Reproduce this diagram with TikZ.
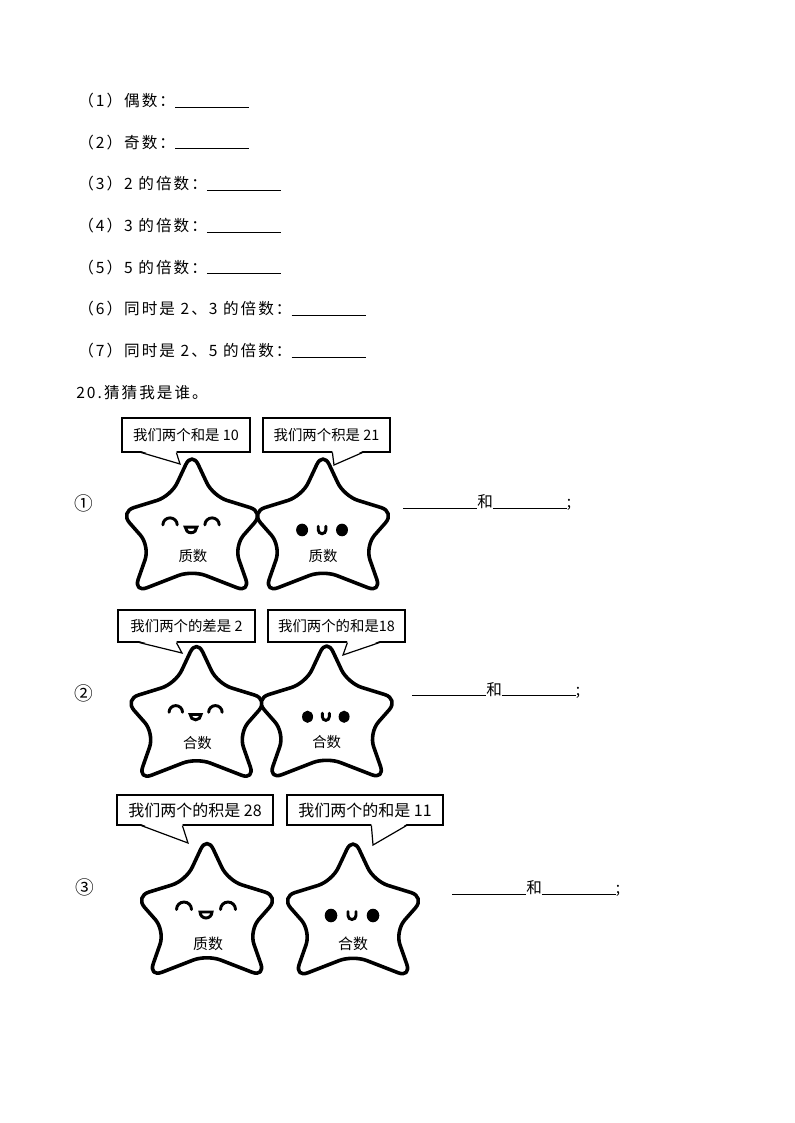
\documentclass[tikz,border=0pt]{standalone}
\usepackage{fontspec}
\setmainfont{Noto Sans CJK SC}
\newfontfamily\cjkwide[LetterSpace=13]{Noto Sans CJK SC}
\usetikzlibrary{calc}

\newcommand{\fillin}{\rule[-0.8pt]{55.5pt}{0.6pt}}
\newcommand{\saysize}{\fontsize{10.8pt}{13pt}\selectfont}
\newcommand{\saybig}{\fontsize{12pt}{14pt}\selectfont}

\tikzset{
  starline/.style={line width=2.7pt, line join=round, rounded corners=11pt},
  faceline/.style={line width=2.2pt, line cap=round},
  starlabel/.style={inner sep=0pt, font=\fontsize{10.8pt}{13pt}\selectfont},
  pics/starbody/.style={code={
    \draw[starline, fill=white] (0,-71.7) -- (21,-26.9) -- (72.1,-11.1) -- (42.1,22.9)
      -- (58.6,70) -- (0,47.2) -- (-58.6,70) -- (-42.1,22.9) -- (-72.1,-11.1)
      -- (-21,-26.9) -- cycle;
  }},
  pics/smilestar/.style={code={
    \pic {starbody};
    \draw[faceline] (-30.5,2) arc (180:360:7.5);
    \draw[faceline] (13.5,2) arc (180:360:7.5);
    \draw[faceline, fill=white] (-7,4.5) -- (5,4.5) arc (0:180:6) -- cycle;
    \node[starlabel] at (1,36) {#1};
  }},
  pics/dotstar/.style={code={
    \pic {starbody};
    \fill (-22,7.5) ellipse [x radius=6.3, y radius=6.8];
    \fill (20,7.5) ellipse [x radius=6.3, y radius=6.8];
    \draw[faceline] (-5,3.5) -- (-5,7.5) arc (180:0:4) -- (3,3.5);
    \node[starlabel] at (0,35.5) {#1};
  }},
}

\begin{document}
\begin{tikzpicture}[x=0.75pt, y=-0.75pt,
  qline/.style={anchor=west, inner sep=0pt, font=\cjkwide\fontsize{11.7pt}{14pt}\selectfont},
  numlabel/.style={inner sep=0pt, font=\fontsize{14pt}{16pt}\selectfont},
  saybox/.style={draw, line width=0.9pt, fill=white, inner sep=0pt},
  tail/.style={line width=0.9pt}]
\useasboundingbox (0,0) rectangle (794,1123);

% questions (1)-(7)
\foreach \q [count=\i] in {（1）偶数：, （2）奇数：, （3）2 的倍数：, （4）3 的倍数：,
    （5）5 的倍数：, （6）同时是 2、3 的倍数：, （7）同时是 2、5 的倍数：}
  \node[qline] (q\i) at (78,{58.8+41.7*\i}) {\q\fillin};
\node[qline] (title) at (76,392.4) {20.猜猜我是谁。};

% stars
\pic[xscale=0.955, yscale=0.93] at (192,523) {smilestar=质数};
\pic[xscale=0.95, yscale=0.93] at (323,523) {dotstar=质数};
\pic[xscale=0.9, yscale=0.89] at (196.5,710.5) {smilestar=合数};
\pic[xscale=0.87, yscale=0.9] at (326.7,710) {dotstar=合数};
\pic[starlabel/.append style={font=\fontsize{11.2pt}{13pt}\selectfont}] at (207,907.5) {smilestar=质数};
\pic[starlabel/.append style={font=\fontsize{11.2pt}{13pt}\selectfont}] at (353,908) {dotstar=合数};

% speech boxes
\node[saybox, minimum width=128*.75pt, minimum height=34*.75pt, font=\saysize] (b11) at (186,435) {我们两个和是 10};
\node[saybox, minimum width=127*.75pt, minimum height=34*.75pt, font=\saysize] (b12) at (326.5,435) {我们两个积是 21};
\node[saybox, minimum width=137*.75pt, minimum height=32*.75pt, font=\saysize] (b21) at (186.5,626) {我们两个的差是 2};
\node[saybox, minimum width=137*.75pt, minimum height=32*.75pt, font=\saysize] (b22) at (336.5,626) {我们两个的和是18};
\node[saybox, minimum width=156*.75pt, minimum height=30*.75pt, font=\saybig] (b31) at (195,810) {我们两个的积是 28};
\node[saybox, minimum width=156*.75pt, minimum height=30*.75pt, font=\saybig] (b32) at (365,810) {我们两个的和是 11};

\coordinate (t11) at (180,464);
\coordinate (t12) at (334,465);
\coordinate (t21) at (182,653);
\coordinate (t22) at (343,655);
\coordinate (t31) at (188,843);
\coordinate (t32) at (373,845);

\foreach \b/\l/\r in {11/20/55, 12/70/100, 21/22/59, 22/80/112, 31/25/66, 32/85/120} {
  \fill[white] ($(b\b.south west)+(\l,-1.5)$) -- (t\b) -- ($(b\b.south west)+(\r,-1.5)$) -- cycle;
  \draw[tail] ($(b\b.south west)+(\l,0)$) -- (t\b) -- ($(b\b.south west)+(\r,0)$);
}

% numbers and answers
\node[numlabel] (n1) at (84,503.5) {①};
\node[numlabel] (n2) at (83.7,693) {②};
\node[numlabel] (n3) at (84.5,887.5) {③};
\node[qline] (a1) at (403,502.5) {\fillin 和\fillin;};
\node[qline] (a2) at (412,690) {\fillin 和\fillin;};
\node[qline] (a3) at (452,888.5) {\fillin 和\fillin;};
\end{tikzpicture}
\end{document}
